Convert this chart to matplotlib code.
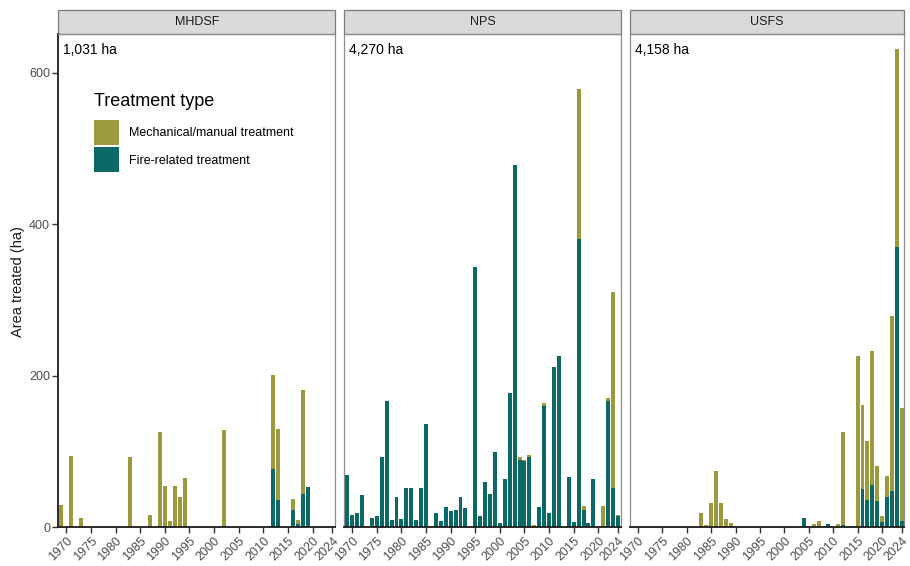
import matplotlib
matplotlib.use('Agg')
import matplotlib.pyplot as plt
from matplotlib.patches import Rectangle, Patch

plt.rcParams['font.family'] = ['Liberation Sans', 'DejaVu Sans']

# ---------------- data ----------------
agencies = ['MHDSF', 'NPS', 'USFS']
total_labels = ['1,031 ha', '4,270 ha', '4,158 ha']
series_names = ['Mechanical/manual treatment', 'Fire-related treatment']
legend_title = 'Treatment type'
y_title = 'Area treated (ha)'
year_ticks = [1970, 1975, 1980, 1985, 1990, 1995, 2000, 2005, 2010, 2015, 2020, 2024]
y_ticks = [0, 200, 400, 600]

mhdsf_years = [1969, 1971, 1973, 1983, 1987, 1989, 1990, 1991, 1992, 1993, 1994,
               2002, 2012, 2013, 2016, 2017, 2018, 2019]
mhdsf_fire = [0, 0, 0, 0, 0, 0, 0, 0, 0, 0, 0,
              0, 76, 36, 22, 4, 43, 53]
mhdsf_mech = [29, 94, 12, 92, 16, 125, 54, 8, 54, 40, 65,
              128, 125, 94, 15, 5, 138, 0]

nps_years = [1969, 1970, 1971, 1972, 1974, 1975, 1976, 1977, 1978, 1979, 1980,
             1981, 1982, 1983, 1984, 1985, 1987, 1988, 1989, 1990, 1991, 1992,
             1993, 1995, 1996, 1997, 1998, 1999, 2000, 2001, 2002, 2003, 2004,
             2005, 2006, 2007, 2008, 2009, 2010, 2011, 2012, 2014, 2015, 2016,
             2017, 2018, 2019, 2021, 2022, 2023, 2024]
nps_fire = [69, 16, 18, 42, 12, 14, 92, 166, 9, 39, 10,
            52, 51, 9, 51, 136, 18, 8, 26, 21, 23, 39,
            25, 344, 15, 59, 43, 99, 5, 64, 177, 478, 89,
            87, 92, 0, 27, 160, 18, 211, 226, 66, 6, 381,
            23, 5, 64, 0, 166, 51, 14]
nps_mech = [0, 0, 0, 0, 0, 0, 0, 0, 0, 0, 0,
            0, 0, 0, 0, 0, 0, 0, 0, 0, 0, 0,
            0, 0, 0, 0, 0, 0, 0, 0, 0, 0, 3,
            2, 3, 3, 0, 4, 0, 0, 0, 0, 0, 198,
            5, 0, 0, 28, 4, 259, 2]

usfs_years = [1983, 1984, 1985, 1986, 1987, 1988, 1989, 2004, 2006, 2007, 2009,
              2011, 2012, 2014, 2015, 2016, 2017, 2018, 2019, 2020, 2021, 2022,
              2023, 2024]
usfs_fire = [0, 0, 0, 0, 0, 0, 0, 12, 0, 0, 4,
             0, 2, 0, 0, 50, 36, 55, 34, 6, 39, 48,
             370, 8]
usfs_mech = [18, 2, 32, 74, 32, 11, 5, 0, 4, 8, 0,
             4, 123, 1, 226, 111, 77, 178, 47, 9, 29, 231,
             261, 149]

panels = [
    (mhdsf_years, mhdsf_fire, mhdsf_mech),
    (nps_years, nps_fire, nps_mech),
    (usfs_years, usfs_fire, usfs_mech),
]

# ---------------- style ----------------
W, H = 910, 566
mech_color = '#9b9a3d'
fire_color = '#0b6965'
grid_grey = '#8c8c8c'
text_grey = '#4d4d4d'

fig = plt.figure(figsize=(W / 100, H / 100), dpi=100)

panel_px = [(58.5, 335.0), (344.3, 620.7), (630.0, 904.3)]
top_px, bot_px = 34.3, 527.0
strip_px = 24.3

axes = []
for i, ((x0, x1), (yrs, fire, mech)) in enumerate(zip(panel_px, panels)):
    ax = fig.add_axes([x0 / W, 1 - bot_px / H, (x1 - x0) / W, (bot_px - top_px) / H])
    axes.append(ax)
    ax.bar(yrs, fire, width=0.8, color=fire_color, linewidth=0)
    ax.bar(yrs, mech, width=0.8, bottom=fire, color=mech_color, linewidth=0)
    ax.set_xlim(1968.4, 2024.55)
    ax.set_ylim(0, 651)
    ax.set_xticks(year_ticks)
    ax.set_xticklabels([str(y) for y in year_ticks], rotation=45, ha='right',
                       rotation_mode='anchor', fontsize=9, color=text_grey)
    ax.set_yticks(y_ticks)
    ax.tick_params(axis='x', length=4, width=1, color='#333333', pad=2)
    if i == 0:
        ax.set_yticklabels([str(v) for v in y_ticks], fontsize=9, color=text_grey)
        ax.tick_params(axis='y', length=4, width=1, color='#333333', pad=2)
        ax.spines['left'].set_color('#1a1a1a')
        ax.spines['left'].set_linewidth(1.3)
    else:
        ax.tick_params(axis='y', length=0, labelleft=False)
        ax.spines['left'].set_color(grid_grey)
        ax.spines['left'].set_linewidth(0.9)
    ax.spines['bottom'].set_color('#1a1a1a')
    ax.spines['bottom'].set_linewidth(1.3)
    ax.spines['right'].set_color(grid_grey)
    ax.spines['right'].set_linewidth(0.9)
    ax.spines['top'].set_color(grid_grey)
    ax.spines['top'].set_linewidth(0.9)

    # strip
    sh = strip_px / (bot_px - top_px)
    ax.add_patch(Rectangle((0, 1), 1, sh, transform=ax.transAxes, clip_on=False,
                           facecolor='#d9d9d9', edgecolor='#7a7a7a', linewidth=0.9))
    ax.text(0.5, 1 + sh / 2, agencies[i], transform=ax.transAxes, ha='center',
            va='center', fontsize=9, color='#1a1a1a')
    # total label
    ax.annotate(total_labels[i], xy=(0, 1), xycoords='axes fraction',
                xytext=(3.5, -6), textcoords='offset points', ha='left', va='top',
                fontsize=10, color='black')

# y axis title
fig.text(18 / W, 1 - 282 / H, y_title, rotation=90, ha='center', va='center',
         fontsize=10.5, color='#1a1a1a')

# legend: title drawn as text, entries as a legend
fig.text(94 / W, 1 - 102 / H, legend_title, ha='left', va='center',
         fontsize=13, color='black')
handles = [Patch(facecolor=mech_color, edgecolor='none'),
           Patch(facecolor=fire_color, edgecolor='none')]
leg = fig.legend(handles, series_names, loc='upper left',
                 bbox_to_anchor=(94 / W, 1 - 120.5 / H), frameon=False,
                 fontsize=9, handlelength=2.0, handleheight=2.6,
                 labelspacing=0.24, handletextpad=0.8, borderpad=0, borderaxespad=0)
for p in leg.get_patches():
    p.set_height(25 * 72 / 100)
    p.set_width(25 * 72 / 100)

fig.savefig('out.png', dpi=100)
